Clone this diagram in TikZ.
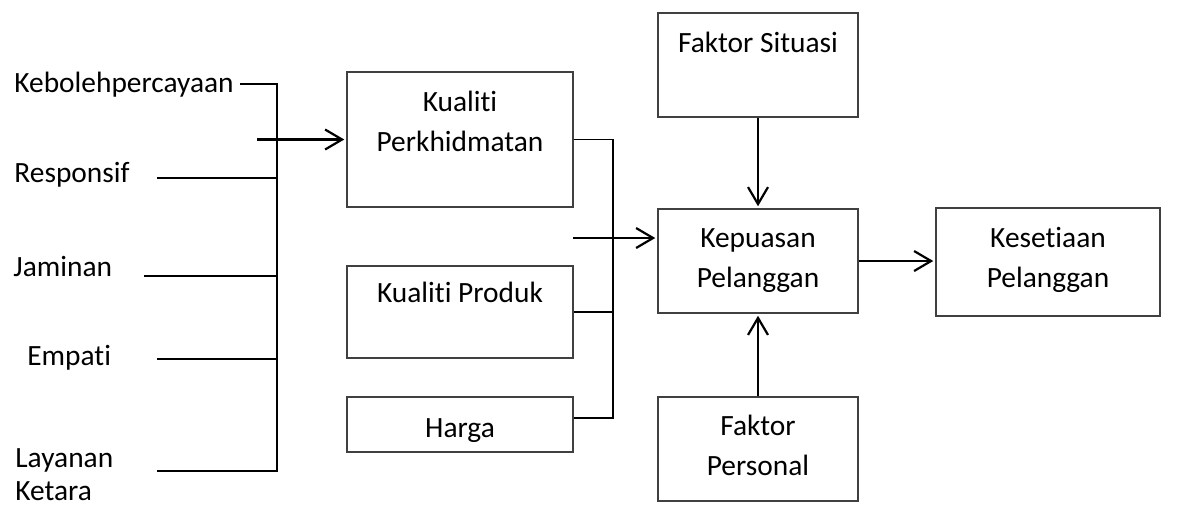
\documentclass[tikz,border=0pt]{standalone}
\usepackage{fontspec}
\setmainfont{Carlito}[Ligatures = {NoCommon}]
\usetikzlibrary{arrows.meta, positioning}

\tikzset{
  box/.style = {draw = black!75, line width = 0.75pt, inner sep = 0pt, minimum width = 100pt, minimum height = 52pt},
  wide/.style = {minimum width = 113pt},
  txt/.style = {inner sep = 0pt, align = center, font = \fontsize{14.7pt}{20pt}\selectfont},
  side/.style = {txt, align = left, anchor = base west, font = \fontsize{14.7pt}{16.5pt}\selectfont},
  link/.style = {line width = 0.8pt},
  arr/.style = {line width = 1.1pt, shorten > = 1pt, -{Straight Barb[length = 8.5pt, width = 10pt, line width = 1.1pt]}}
}

\begin{document}
\begin{tikzpicture}[x = 0.5pt, y = -0.5pt]
        \useasboundingbox (0,0) rectangle (1181,511);

        % kotak
        \node[box, wide, minimum height = 67.5pt] (kp) at (460,139.5) {};
        \node[box, wide, minimum height = 46pt] (kprod) at (460,312) {};
        \node[box, wide, minimum height = 27.5pt] (harga) at (460,424.5) {};
        \node[box] (fs) at (758,65) {};
        \node[box] (kep) at (758,261) {};
        \node[box] (fp) at (758,449) {};
        \node[box, minimum width = 112pt, minimum height = 54pt] (kes) at (1048,262) {};

        % teks dalam kotak (base = garis terakhir)
        \node[txt, anchor = base] (kp-t) at (460,151) {Kualiti\\Perkhidmatan};
        \node[txt, anchor = base] (kprod-t) at (460,302) {Kualiti Produk};
        \node[txt, anchor = base] (harga-t) at (460,437) {Harga};
        \node[txt, anchor = base] (fs-t) at (758,52) {Faktor Situasi};
        \node[txt, anchor = base] (kep-t) at (758,287) {Kepuasan\\Pelanggan};
        \node[txt, anchor = base] (fp-t) at (758,475) {Faktor\\Personal};
        \node[txt, anchor = base] (kes-t) at (1048,287) {Kesetiaan\\Pelanggan};

        % dimensi kualiti perkhidmatan
        \node[side] (keb) at (14,92) {Kebolehpercayaan};
        \node[side] (resp) at (14,182) {Responsif};
        \node[side] (jam) at (13,276) {Jaminan};
        \node[side] (emp) at (27,365) {Empati};
        \node[side] (lay) at (15,500) {Layanan\\Ketara};

        \coordinate (keb-e) at (240,84);
        \coordinate (resp-e) at (157,178);
        \coordinate (jam-e) at (144,276);
        \coordinate (emp-e) at (157,359);
        \coordinate (lay-e) at (157,471);
        \coordinate (bus-l) at (277,471);
        \coordinate (bus-r) at (613,418);
        \coordinate (in-kp) at (257,139.5);
        \coordinate (in-kep) at (573,238);

        \draw[link] (keb-e) -- (keb-e -| bus-l) -- (bus-l) -- (lay-e);
        \draw[link] (resp-e) -- (resp-e -| bus-l);
        \draw[link] (jam-e) -- (jam-e -| bus-l);
        \draw[link] (emp-e) -- (emp-e -| bus-l);

        \draw[link] (kp.east) -- (kp.east -| bus-r) -- (bus-r) -- (bus-r -| harga.east);
        \draw[link] (kprod.east) -- (kprod.east -| bus-r);

        % anak panah
        \draw[arr] (in-kp) -- (kp.west);
        \draw[arr] (in-kep) -- (in-kep -| kep.west);
        \draw[arr] (fs.south) -- (kep.north);
        \draw[arr] (fp.north) -- (kep.south);
        \draw[arr] (kep.east) -- (kep.east -| kes.west);
\end{tikzpicture}
\end{document}
